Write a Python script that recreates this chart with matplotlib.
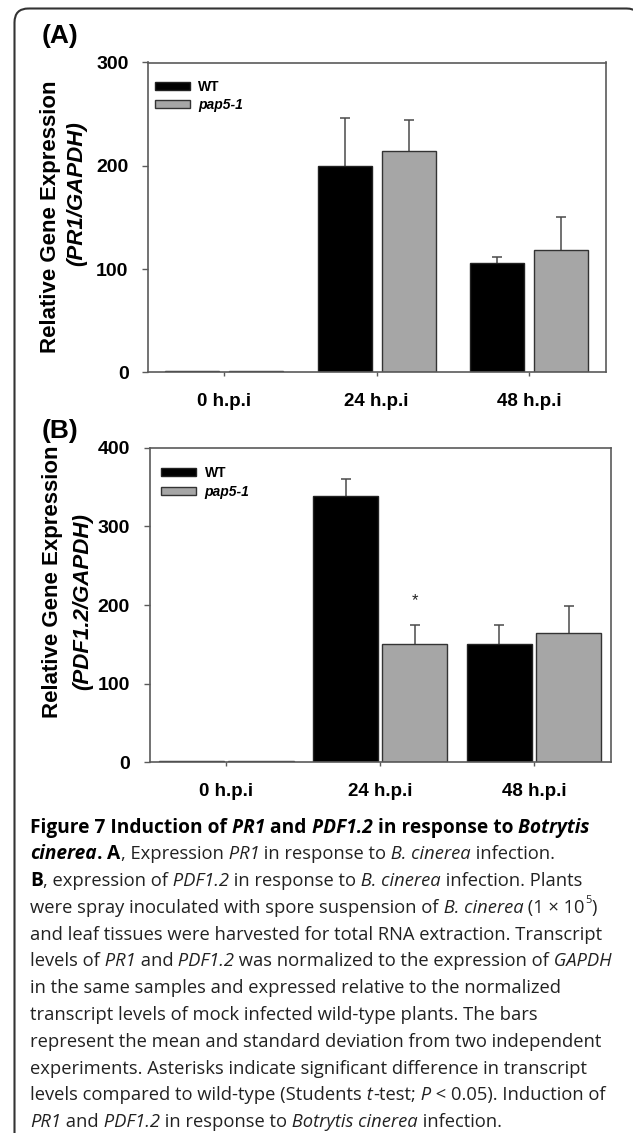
import matplotlib
matplotlib.use('Agg')
import numpy as np
import matplotlib.pyplot as plt
from matplotlib.patches import FancyBboxPatch, Patch
from matplotlib.font_manager import FontProperties

# Dados
grupos = ['0 h.p.i', '24 h.p.i', '48 h.p.i']
series = ['WT', 'pap5-1']

pr1_wt = [1, 200, 106]
pr1_wt_dp = [0, 46, 6]
pr1_pap = [1, 214, 118]
pr1_pap_dp = [0, 30, 32]

pdf_wt = [2, 339, 151]
pdf_wt_dp = [0, 21, 24]
pdf_pap = [2, 151, 164]
pdf_pap_dp = [0, 24, 35]

# Legenda da figura (linhas e estilos: r normal, i itálico, b negrito, bi negrito itálico)
legenda = [
    [("Figure 7 Induction of", 'b'), (" PR1", 'bi'), (" and", 'b'), (" PDF1.2", 'bi'),
     (" in response to", 'b'), (" Botrytis", 'bi')],
    [("cinerea", 'bi'), (".", 'b'), (" A", 'b'), (", Expression", 'r'), (" PR1", 'i'),
     (" in response to", 'r'), (" B. cinerea", 'i'), (" infection.", 'r')],
    [("B", 'b'), (", expression of", 'r'), (" PDF1.2", 'i'), (" in response to", 'r'),
     (" B. cinerea", 'i'), (" infection. Plants", 'r')],
    [("were spray inoculated with spore suspension of", 'r'), (" B. cinerea", 'i'),
     (" (1 \u00d7 10", 'r'), ("5", 'sup'), (")", 'r')],
    [("and leaf tissues were harvested for total RNA extraction. Transcript", 'r')],
    [("levels of", 'r'), (" PR1", 'i'), (" and", 'r'), (" PDF1.2", 'i'),
     (" was normalized to the expression of", 'r'), (" GAPDH", 'i')],
    [("in the same samples and expressed relative to the normalized", 'r')],
    [("transcript levels of mock infected wild-type plants. The bars", 'r')],
    [("represent the mean and standard deviation from two independent", 'r')],
    [("experiments. Asterisks indicate significant difference in transcript", 'r')],
    [("levels compared to wild-type (Students", 'r'), (" t", 'i'), ("-test;", 'r'), (" P", 'i'),
     (" < 0.05). Induction of", 'r')],
    [("PR1", 'i'), (" and", 'r'), (" PDF1.2", 'i'), (" in response to", 'r'),
     (" Botrytis cinerea", 'i'), (" infection.", 'r')],
]

W, H = 633, 1133
fig = plt.figure(figsize=(W / 100, H / 100), dpi=100, facecolor='white')

# Eixo de fundo em pixels (moldura, rótulos e legenda)
fundo = fig.add_axes([0, 0, 1, 1], zorder=0)
fundo.set_xlim(0, W)
fundo.set_ylim(H, 0)
fundo.axis('off')
moldura = FancyBboxPatch((14.5, 8.5), 626, 1300, boxstyle='round,pad=0,rounding_size=14',
                         fc='none', ec='#333333', lw=1.5)
fundo.add_patch(moldura)

fonte = 'Liberation Sans'
cinza_eixo = '#5a5a5a'


def painel(ax, wt, wt_dp, pap, pap_dp, largura, desloc, ymax):
    x = np.arange(len(grupos))
    ax.bar(x - desloc, wt, largura, color='black', edgecolor='#222222', lw=1, label=series[0], zorder=2)
    ax.bar(x + desloc, pap, largura, color='#a6a6a6', edgecolor='#333333', lw=1, label=series[1], zorder=2)
    # Barras de erro só para cima
    for xs, v, dp in [(x - desloc, wt, wt_dp), (x + desloc, pap, pap_dp)]:
        for xi, vi, di in zip(xs, v, dp):
            if di > 0:
                eb = ax.errorbar(xi, vi, yerr=[[0], [di]], fmt='none', ecolor='#4a4a4a',
                                 elinewidth=1.1, capsize=3.6, capthick=1.1, zorder=1)
                for cap in eb[1]:
                    if abs(cap.get_ydata()[0] - vi) < 1e-9:
                        cap.set_visible(False)
    ax.set_xlim(-0.5, len(grupos) - 0.5)
    ax.set_ylim(0, ymax)
    ax.set_yticks(np.arange(0, ymax + 1, 100))
    ax.set_xticks(x)
    ax.set_xticklabels(grupos)
    for s in ax.spines.values():
        s.set_color(cinza_eixo)
        s.set_linewidth(1.2)
    ax.tick_params(axis='y', direction='out', length=4, width=1, color=cinza_eixo, pad=10)
    ax.tick_params(axis='x', direction='out', length=3, width=1, color=cinza_eixo, pad=12)
    for t in ax.get_yticklabels():
        t.set_fontfamily(fonte)
        t.set_fontweight('bold')
        t.set_fontsize(14)
    for t in ax.get_xticklabels():
        t.set_fontfamily(fonte)
        t.set_fontweight('bold')
        t.set_fontsize(13.5)
    hs = [Patch(fc='black', ec='#222222', lw=1), Patch(fc='#a6a6a6', ec='#333333', lw=1)]
    return hs


def pos(x0, y0, x1, y1):
    return [x0 / W, 1 - y1 / H, (x1 - x0) / W, (y1 - y0) / H]


# Painel A
axA = fig.add_axes(pos(148, 62.5, 605.5, 372.3), zorder=1)
hs = painel(axA, pr1_wt, pr1_wt_dp, pr1_pap, pr1_pap_dp, 0.355, 0.21, 300)
leg = axA.legend(hs, series, loc='upper left', bbox_to_anchor=(0.015, 0.944), frameon=False,
                 borderpad=0, borderaxespad=0, handlelength=2.5, handleheight=0.55,
                 handletextpad=0.6, labelspacing=0.3,
                 prop={'family': fonte, 'weight': 'bold', 'size': 10})
leg.get_texts()[1].set_fontstyle('italic')

# Painel B
axB = fig.add_axes(pos(149.5, 447.7, 611, 762.3), zorder=1)
hs = painel(axB, pdf_wt, pdf_wt_dp, pdf_pap, pdf_pap_dp, 0.423, 0.225, 400)
leg = axB.legend(hs, series, loc='upper left', bbox_to_anchor=(0.026, 0.942), frameon=False,
                 borderpad=0, borderaxespad=0, handlelength=2.5, handleheight=0.55,
                 handletextpad=0.6, labelspacing=0.35,
                 prop={'family': fonte, 'weight': 'bold', 'size': 10})
leg.get_texts()[1].set_fontstyle('italic')
# Asterisco de significância
axB.text(1 + 0.225, pdf_pap[1] + pdf_pap_dp[1] + 30, '*', ha='center', va='center',
         fontsize=12, family=fonte, color='#222222')

# Letras dos painéis e rótulos do eixo y
fundo.text(60, 36, '(A)', ha='center', va='center', fontsize=19, fontweight='bold', family=fonte)
fundo.text(60, 431, '(B)', ha='center', va='center', fontsize=19, fontweight='bold', family=fonte)
fundo.text(50.5, 217, 'Relative Gene Expression', rotation=90, ha='center', va='center',
           fontsize=16, fontweight='bold', family=fonte)
fundo.text(77, 194, '(PR1/GAPDH)', rotation=90, ha='center', va='center',
           fontsize=16, fontweight='bold', fontstyle='italic', family=fonte)
fundo.text(52.5, 582, 'Relative Gene Expression', rotation=90, ha='center', va='center',
           fontsize=16, fontweight='bold', family=fonte)
fundo.text(83, 602, '(PDF1.2/GAPDH)', rotation=90, ha='center', va='center',
           fontsize=16, fontweight='bold', fontstyle='italic', family=fonte)

render = fig.canvas.get_renderer()


def avanco(txt, fp):
    # avanço real do texto: mede entre duas barras para incluir espaços e recuos
    w1 = render.get_text_width_height_descent('|' + txt + '|', fp, ismath=False)[0]
    w0 = render.get_text_width_height_descent('||', fp, ismath=False)[0]
    return w1 - w0


# Legenda escrita por partes (estilos misturados)
tam = 13.2
tam_b = 13.8
for i, linha in enumerate(legenda):
    x = 30.3
    y = 832.7 + 26.76 * i
    for txt, st in linha:
        fs = tam_b if 'b' in st else tam
        yy = y
        if st == 'sup':
            fs = tam * 0.6
            yy = y - tam * 0.75
        fp = FontProperties(family='Open Sans', size=fs,
                            weight='bold' if 'b' in st else 'normal',
                            style='italic' if 'i' in st else 'normal')
        fundo.text(x, yy, txt, fontproperties=fp, va='baseline', ha='left',
                   color='black' if 'b' in st else '#222222')
        x += avanco(txt, fp)

fig.savefig('out.png', dpi=100)
